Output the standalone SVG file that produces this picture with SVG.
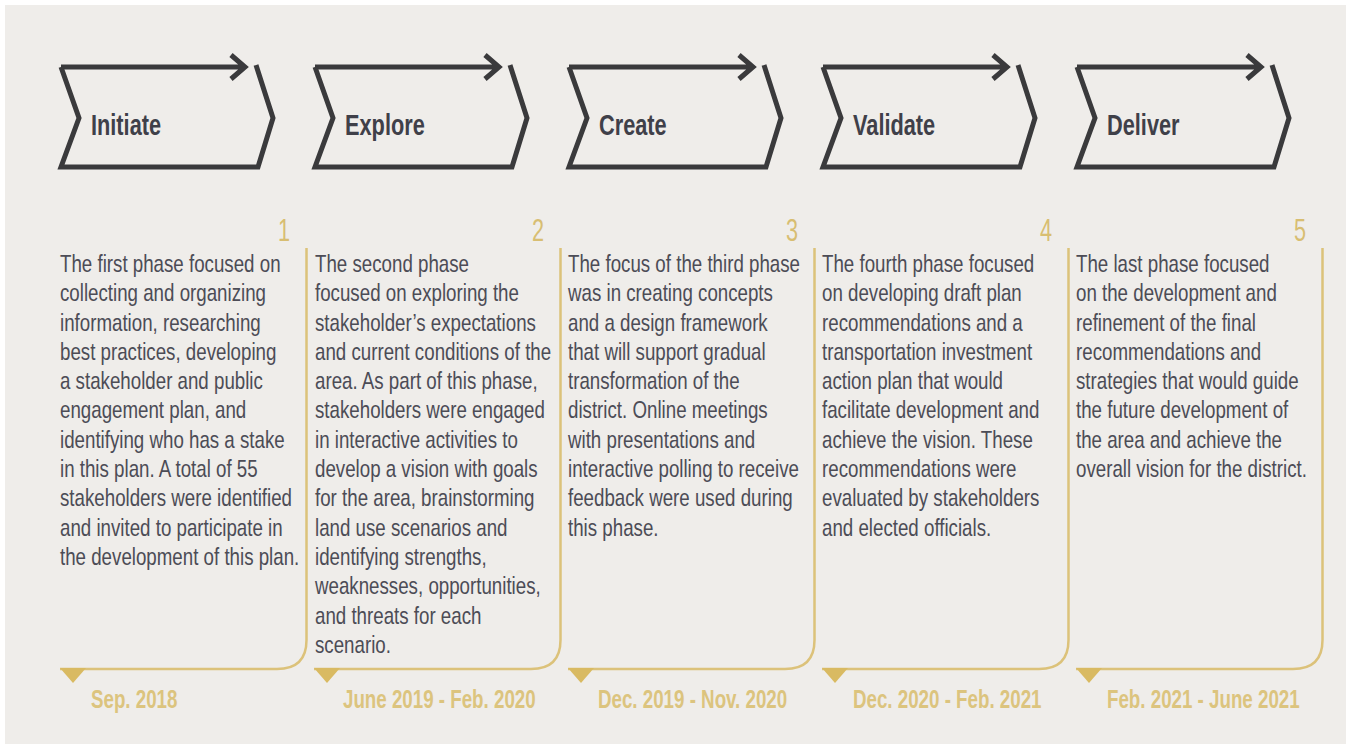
<svg xmlns="http://www.w3.org/2000/svg" xmlns:xlink="http://www.w3.org/1999/xlink" width="1351" height="749" viewBox="0 0 1351 749">
  <style>
    .chev { fill: none; stroke: #3a3a3c; stroke-width: 5; stroke-linejoin: miter; stroke-linecap: butt; }
    .head { font-family: "Liberation Sans", Arial, sans-serif; font-weight: bold; font-size: 29px; fill: #3f4049; }
    .num { font-family: "Liberation Sans", Arial, sans-serif; font-size: 31px; fill: #d8be72; text-anchor: middle; }
    .body { font-family: "Liberation Sans", Arial, sans-serif; font-size: 24px; fill: #4c4c56; }
    .date { font-family: "Liberation Sans", Arial, sans-serif; font-weight: bold; font-size: 25px; fill: #dcc47e; }
    .frame { fill: none; stroke: #dcc27a; stroke-width: 2.5; }
    .tip { fill: #d9ba62; }
  </style>
  <defs>
    <!-- chevron outline with the arrow running along its top edge -->
    <g id="chevron">
      <path class="chev" d="M61,67 H245 M231,55 L245,67 L231,79"/>
      <path class="chev" d="M256,65 L273,118 L258,167 H61 L79,118 L61,67"/>
    </g>
    <!-- gold bracket under each text column, with its pointer -->
    <g id="bracket">
      <path class="frame" d="M306.5,248 V640 Q306.5,669 277,669 H60"/>
      <polygon class="tip" points="60,668 86,668 73,683"/>
    </g>
  </defs>

  <rect x="5" y="5" width="1341" height="739" fill="#efedea"/>

  <g id="connectors">
    <use xlink:href="#bracket" x="0"/>
    <use xlink:href="#bracket" x="254"/>
    <use xlink:href="#bracket" x="508"/>
    <use xlink:href="#bracket" x="762"/>
    <use xlink:href="#bracket" x="1016"/>
  </g>

  <g id="phase-initiate">
    <use xlink:href="#chevron" x="0"/>
    <text class="head" transform="translate(91,135) scale(0.75,1)">Initiate</text>
    <text class="num" transform="translate(284,241) scale(0.7,1)">1</text>
    <g transform="translate(60,0) scale(0.78,1)">
      <text class="body" x="0" y="272">The first phase focused on</text>
      <text class="body" x="0" y="301.3">collecting and organizing</text>
      <text class="body" x="0" y="330.6">information, researching</text>
      <text class="body" x="0" y="359.9">best practices, developing</text>
      <text class="body" x="0" y="389.2">a stakeholder and public</text>
      <text class="body" x="0" y="418.5">engagement plan, and</text>
      <text class="body" x="0" y="447.8">identifying who has a stake</text>
      <text class="body" x="0" y="477.1">in this plan. A total of 55</text>
      <text class="body" x="0" y="506.4">stakeholders were identified</text>
      <text class="body" x="0" y="535.7">and invited to participate in</text>
      <text class="body" x="0" y="565">the development of this plan.</text>
    </g>
    <text class="date" transform="translate(91,708) scale(0.75,1)">Sep. 2018</text>
  </g>

  <g id="phase-explore">
    <use xlink:href="#chevron" x="254"/>
    <text class="head" transform="translate(345,135) scale(0.75,1)">Explore</text>
    <text class="num" transform="translate(538,241) scale(0.7,1)">2</text>
    <g transform="translate(315,0) scale(0.78,1)">
      <text class="body" x="0" y="272">The second phase</text>
      <text class="body" x="0" y="301.3">focused on exploring the</text>
      <text class="body" x="0" y="330.6">stakeholder’s expectations</text>
      <text class="body" x="0" y="359.9">and current conditions of the</text>
      <text class="body" x="0" y="389.2">area. As part of this phase,</text>
      <text class="body" x="0" y="418.5">stakeholders were engaged</text>
      <text class="body" x="0" y="447.8">in interactive activities to</text>
      <text class="body" x="0" y="477.1">develop a vision with goals</text>
      <text class="body" x="0" y="506.4">for the area, brainstorming</text>
      <text class="body" x="0" y="535.7">land use scenarios and</text>
      <text class="body" x="0" y="565">identifying strengths,</text>
      <text class="body" x="0" y="594.3">weaknesses, opportunities,</text>
      <text class="body" x="0" y="623.6">and threats for each</text>
      <text class="body" x="0" y="652.9">scenario.</text>
    </g>
    <text class="date" transform="translate(343,708) scale(0.75,1)">June 2019 - Feb. 2020</text>
  </g>

  <g id="phase-create">
    <use xlink:href="#chevron" x="508"/>
    <text class="head" transform="translate(599,135) scale(0.75,1)">Create</text>
    <text class="num" transform="translate(792,241) scale(0.7,1)">3</text>
    <g transform="translate(568,0) scale(0.78,1)">
      <text class="body" x="0" y="272">The focus of the third phase</text>
      <text class="body" x="0" y="301.3">was in creating concepts</text>
      <text class="body" x="0" y="330.6">and a design framework</text>
      <text class="body" x="0" y="359.9">that will support gradual</text>
      <text class="body" x="0" y="389.2">transformation of the</text>
      <text class="body" x="0" y="418.5">district. Online meetings</text>
      <text class="body" x="0" y="447.8">with presentations and</text>
      <text class="body" x="0" y="477.1">interactive polling to receive</text>
      <text class="body" x="0" y="506.4">feedback were used during</text>
      <text class="body" x="0" y="535.7">this phase.</text>
    </g>
    <text class="date" transform="translate(598,708) scale(0.75,1)">Dec. 2019 - Nov. 2020</text>
  </g>

  <g id="phase-validate">
    <use xlink:href="#chevron" x="762"/>
    <text class="head" transform="translate(853,135) scale(0.75,1)">Validate</text>
    <text class="num" transform="translate(1046,241) scale(0.7,1)">4</text>
    <g transform="translate(822,0) scale(0.78,1)">
      <text class="body" x="0" y="272">The fourth phase focused</text>
      <text class="body" x="0" y="301.3">on developing draft plan</text>
      <text class="body" x="0" y="330.6">recommendations and a</text>
      <text class="body" x="0" y="359.9">transportation investment</text>
      <text class="body" x="0" y="389.2">action plan that would</text>
      <text class="body" x="0" y="418.5">facilitate development and</text>
      <text class="body" x="0" y="447.8">achieve the vision. These</text>
      <text class="body" x="0" y="477.1">recommendations were</text>
      <text class="body" x="0" y="506.4">evaluated by stakeholders</text>
      <text class="body" x="0" y="535.7">and elected officials.</text>
    </g>
    <text class="date" transform="translate(853,708) scale(0.75,1)">Dec. 2020 - Feb. 2021</text>
  </g>

  <g id="phase-deliver">
    <use xlink:href="#chevron" x="1016"/>
    <text class="head" transform="translate(1107,135) scale(0.75,1)">Deliver</text>
    <text class="num" transform="translate(1300,241) scale(0.7,1)">5</text>
    <g transform="translate(1076,0) scale(0.78,1)">
      <text class="body" x="0" y="272">The last phase focused</text>
      <text class="body" x="0" y="301.3">on the development and</text>
      <text class="body" x="0" y="330.6">refinement of the final</text>
      <text class="body" x="0" y="359.9">recommendations and</text>
      <text class="body" x="0" y="389.2">strategies that would guide</text>
      <text class="body" x="0" y="418.5">the future development of</text>
      <text class="body" x="0" y="447.8">the area and achieve the</text>
      <text class="body" x="0" y="477.1">overall vision for the district.</text>
    </g>
    <text class="date" transform="translate(1107,708) scale(0.75,1)">Feb. 2021 - June 2021</text>
  </g>
</svg>
